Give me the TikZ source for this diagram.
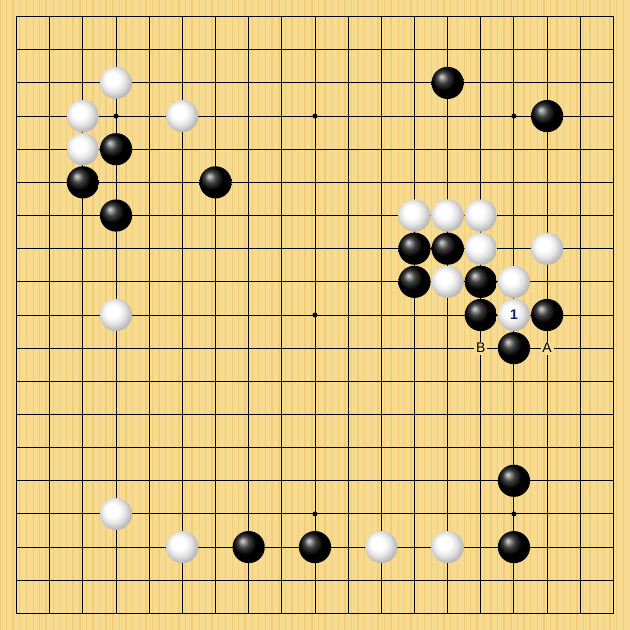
\documentclass[tikz,border=0pt]{standalone}
\usepackage{fontspec}
\setsansfont{Liberation Sans}
\usetikzlibrary{
    shapes,
    backgrounds,
    calc,
    positioning,
}
\definecolor{boardWood}{RGB}{247,219,145}
\definecolor{woodGrain}{RGB}{237,192,100}
\definecolor{moveBlue}{RGB}{20,25,110}
\pgfdeclareradialshading{whiteBall}{\pgfpoint{-7bp}{7bp}}{%
    color(0bp)=(white); color(10bp)=(white); color(18bp)=(gray!20);
    color(25bp)=(gray!48); color(31bp)=(gray!65); color(50bp)=(gray!70)}

\begin{document}
\begin{tikzpicture}[x=1cm,y=-1cm]

    \tikzstyle{gridLine}=[black, line width=0.8pt]
    \tikzstyle{boardEdge}=[black, line width=1.5pt]
    \tikzstyle{commonStone}=[circle, inner sep=0pt, minimum size=0.97cm]
    \tikzstyle{blackStone}=[commonStone, shading=ball, ball color=black]
    \tikzstyle{whiteStone}=[commonStone, shading=whiteBall, font=\sffamily\bfseries\fontsize{12}{12}\selectfont, text=moveBlue]
    \tikzstyle{pointLabel}=[fill=boardWood, inner sep=1.5pt, font=\sffamily\fontsize{12}{12}\selectfont]

    \useasboundingbox (-0.5,-0.5) rectangle (18.5,18.5);

    % Board
    \fill[boardWood] (-0.5,-0.5) rectangle (18.5,18.5);
    \foreach \k in {0,...,94} {
        \pgfmathsetmacro\grainWidth{0.5+1.2*mod(\k*7,5)/4}
        \draw[woodGrain, opacity=0.5, line width=\grainWidth pt] (-0.5+0.2*\k,-0.5) -- ++(0,19);
    }

    % Lines and star points
    \foreach \i in {1,...,17} {
        \draw[gridLine] (\i,0) -- (\i,18);
        \draw[gridLine] (0,\i) -- (18,\i);
    }
    \draw[boardEdge] (0,0) rectangle (18,18);
    \foreach \i/\j in {3/3,9/3,15/3,3/9,9/9,15/9,3/15,9/15,15/15}
        \fill (\i,\j) circle (0.075);

    % White stones
    \node at (3,2)   [whiteStone] (W3x2)   {};
    \node at (2,3)   [whiteStone] (W2x3)   {};
    \node at (5,3)   [whiteStone] (W5x3)   {};
    \node at (2,4)   [whiteStone] (W2x4)   {};
    \node at (12,6)  [whiteStone] (W12x6)  {};
    \node at (13,6)  [whiteStone] (W13x6)  {};
    \node at (14,6)  [whiteStone] (W14x6)  {};
    \node at (14,7)  [whiteStone] (W14x7)  {};
    \node at (16,7)  [whiteStone] (W16x7)  {};
    \node at (13,8)  [whiteStone] (W13x8)  {};
    \node at (15,8)  [whiteStone] (W15x8)  {};
    \node at (15,9)  [whiteStone] (W15x9)  {1};
    \node at (3,9)   [whiteStone] (W3x9)   {};
    \node at (3,15)  [whiteStone] (W3x15)  {};
    \node at (5,16)  [whiteStone] (W5x16)  {};
    \node at (11,16) [whiteStone] (W11x16) {};
    \node at (13,16) [whiteStone] (W13x16) {};

    % Black stones
    \node at (13,2)  [blackStone] (B13x2)  {};
    \node at (16,3)  [blackStone] (B16x3)  {};
    \node at (3,4)   [blackStone] (B3x4)   {};
    \node at (2,5)   [blackStone] (B2x5)   {};
    \node at (6,5)   [blackStone] (B6x5)   {};
    \node at (3,6)   [blackStone] (B3x6)   {};
    \node at (12,7)  [blackStone] (B12x7)  {};
    \node at (13,7)  [blackStone] (B13x7)  {};
    \node at (12,8)  [blackStone] (B12x8)  {};
    \node at (14,8)  [blackStone] (B14x8)  {};
    \node at (14,9)  [blackStone] (B14x9)  {};
    \node at (16,9)  [blackStone] (B16x9)  {};
    \node at (15,10) [blackStone] (B15x10) {};
    \node at (15,14) [blackStone] (B15x14) {};
    \node at (7,16)  [blackStone] (B7x16)  {};
    \node at (9,16)  [blackStone] (B9x16)  {};
    \node at (15,16) [blackStone] (B15x16) {};

    % Marked points
    \node at (14,10) [pointLabel] (B) {B};
    \node at (16,10) [pointLabel] (A) {A};

\end{tikzpicture}
\end{document}
